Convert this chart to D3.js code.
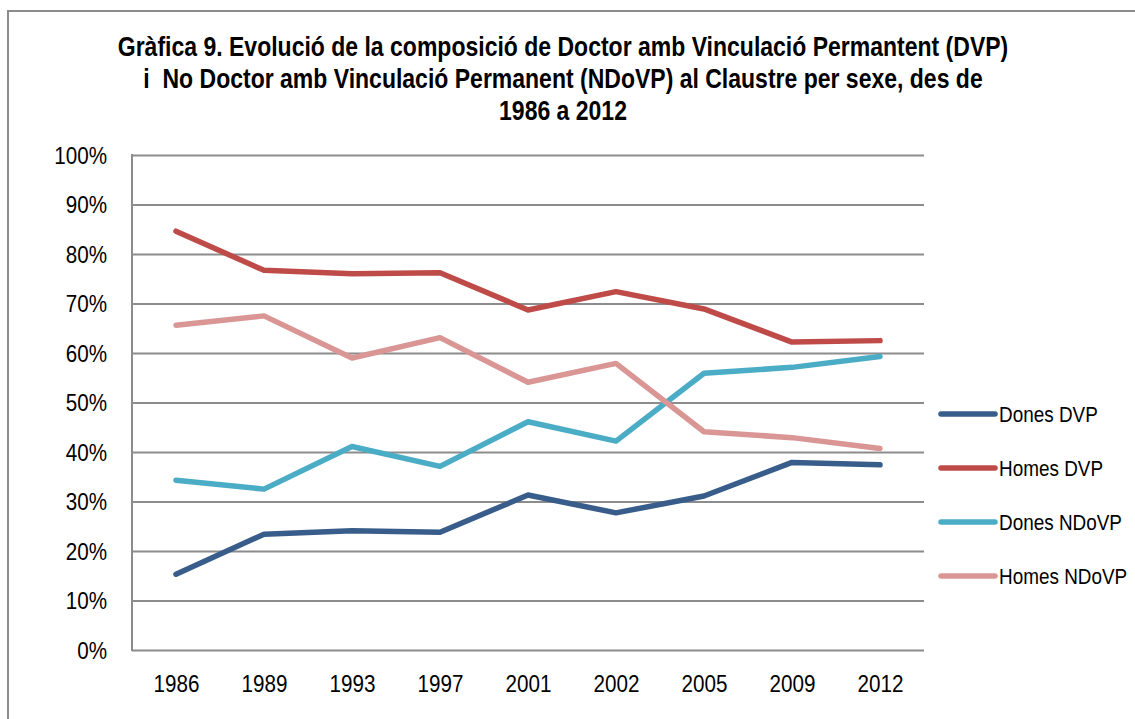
<!DOCTYPE html>
<html>
<head>
<meta charset="utf-8">
<script src="https://cdn.jsdelivr.net/npm/d3@7"></script>
<style>
  html, body { margin: 0; padding: 0; background: #fff; }
  svg { display: block; }
  text { font-family: "Liberation Sans Narrow", "Arial Narrow", "Liberation Sans", Arial, sans-serif; fill: #000; }
</style>
</head>
<body>
<svg id="chart" width="1135" height="719"></svg>
<script>
const titleLines = [
  "Gràfica 9. Evolució de la composició de Doctor amb Vinculació Permantent (DVP)",
  "i  No Doctor amb Vinculació Permanent (NDoVP) al Claustre per sexe, des de",
  "1986 a 2012"
];
const years = ["1986", "1989", "1993", "1997", "2001", "2002", "2005", "2009", "2012"];
const yTicks = [0, 0.1, 0.2, 0.3, 0.4, 0.5, 0.6, 0.7, 0.8, 0.9, 1.0];
const seriesNames = ["Dones DVP", "Homes DVP", "Dones NDoVP", "Homes NDoVP"];
const seriesColors = ["#385D8A", "#BE4B48", "#4BACC6", "#D99694"];
const donesDVP   = [0.153, 0.234, 0.241, 0.238, 0.313, 0.277, 0.311, 0.379, 0.374];
const homesDVP   = [0.846, 0.767, 0.760, 0.762, 0.687, 0.724, 0.689, 0.622, 0.625];
const donesNDoVP = [0.343, 0.325, 0.411, 0.371, 0.461, 0.422, 0.559, 0.571, 0.593];
const homesNDoVP = [0.656, 0.675, 0.590, 0.631, 0.541, 0.579, 0.441, 0.429, 0.407];
const seriesValues = [donesDVP, homesDVP, donesNDoVP, homesNDoVP];

const NARROW = 0.86;
const svg = d3.select("#chart");

// outer frame (top and left edges visible)
svg.append("path")
  .attr("d", "M8,1000 L8,11 L1200,11")
  .attr("fill", "none").attr("stroke", "#8c8c8c").attr("stroke-width", 2);

// title
const titleG = svg.append("g").selectAll("g").data(titleLines).join("g")
  .attr("transform", (d, i) => `translate(563,${56 + i * 32}) scale(0.852,1)`);
titleG.append("text")
  .attr("x", 0).attr("y", 0)
  .attr("text-anchor", "middle")
  .attr("font-weight", "bold")
  .attr("font-size", 27)
  .style("white-space", "pre")
  .text(d => d);

const x = d3.scalePoint().domain(years).range([132, 924]).padding(0.5);
const y = d3.scaleLinear().domain([0, 1]).range([650, 155]);

// gridlines
svg.append("g")
  .attr("transform", "translate(132,0)")
  .call(d3.axisLeft(y).tickValues(yTicks).tickSize(-792).tickFormat(""))
  .call(g => g.select(".domain").remove())
  .call(g => g.selectAll(".tick line").attr("stroke", "#8c8c8c").attr("stroke-width", 2));

// left axis line
svg.append("line")
  .attr("x1", 132).attr("x2", 132).attr("y1", y(1) - 1).attr("y2", y(0) + 1)
  .attr("stroke", "#8c8c8c").attr("stroke-width", 2);

const fontStack = "\"Liberation Sans Narrow\", \"Arial Narrow\", \"Liberation Sans\", Arial, sans-serif";

// y labels
const yAxis = svg.append("g")
  .attr("transform", "translate(107,0)")
  .call(d3.axisLeft(y).tickValues(yTicks).tickSize(0).tickFormat(d3.format(".0%")));
yAxis.select(".domain").remove();
yAxis.selectAll("text")
  .attr("font-size", 24)
  .attr("x", 0)
  .attr("dy", "0.35em")
  .attr("transform", `scale(${NARROW},1)`)
  .style("font-family", fontStack)
  .attr("fill", "#000");

// x labels
const xAxis = svg.append("g")
  .attr("transform", "translate(0,650)")
  .call(d3.axisBottom(x).tickSize(0));
xAxis.select(".domain").remove();
xAxis.selectAll("text")
  .attr("font-size", 24)
  .attr("y", 42)
  .attr("dy", 0)
  .attr("transform", `scale(${NARROW},1)`)
  .style("font-family", fontStack)
  .attr("fill", "#000");

// lines
const line = d3.line().x((d, i) => x(years[i])).y(d => y(d));
svg.append("g").selectAll("path").data(seriesValues).join("path")
  .attr("d", d => line(d))
  .attr("fill", "none")
  .attr("stroke", (d, i) => seriesColors[i])
  .attr("stroke-width", 5.5)
  .attr("stroke-linecap", "round")
  .attr("stroke-linejoin", "round");

// legend
const lg = svg.append("g").selectAll("g").data(seriesNames).join("g")
  .attr("transform", (d, i) => `translate(941,${414 + i * 54})`);
lg.append("line")
  .attr("x1", 0).attr("x2", 54).attr("y1", 0).attr("y2", 0)
  .attr("stroke", (d, i) => seriesColors[i])
  .attr("stroke-width", 5.5).attr("stroke-linecap", "round");
lg.append("g")
  .attr("transform", `translate(58,0) scale(${NARROW},1)`)
  .append("text")
  .attr("x", 0).attr("y", 0).attr("dy", "0.35em")
  .attr("font-size", 22)
  .text(d => d);
</script>
</body>
</html>
